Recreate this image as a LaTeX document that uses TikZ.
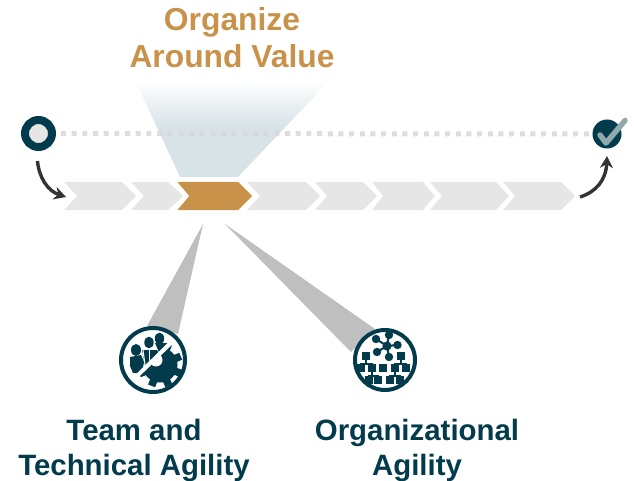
\documentclass[tikz,border=0pt]{standalone}
\usepackage{fontspec}
\setmainfont{Liberation Sans}
\usetikzlibrary{arrows.meta}

\definecolor{tealdark}{HTML}{023B4B}
\definecolor{goldtitle}{HTML}{C9924A}
\definecolor{chevgrey}{HTML}{E6E6E6}
\definecolor{beamgrey}{HTML}{BFBFBF}
\definecolor{funnelblue}{HTML}{D8E3E8}
\definecolor{checkgrey}{HTML}{8FA9AD}

\tikzset{
    titletext/.style={font=\bfseries\fontsize{31.8}{37}\selectfont, text=goldtitle, align=center},
    labeltext/.style={font=\bfseries\fontsize{29.4}{35}\selectfont, text=tealdark, align=center},
    flowarrow/.style={draw=black!80, line width=3.4pt, -{Stealth[length=12pt,width=13pt]}},
    iconring/.style={circle, draw=tealdark, fill=white, line width=4pt, inner sep=0pt}
}

\begin{document}
\begin{tikzpicture}[x=1pt, y=-1pt]
    \useasboundingbox (0,0) rectangle (634,481);

    % Funnel
    \begin{scope}
        \clip (135,80) -- (330,80) -- (238,177) -- (180,177) -- cycle;
        \shade[top color=white, bottom color=funnelblue] (120,80) rectangle (340,126);
        \fill[funnelblue] (120,125.5) rectangle (340,177);
    \end{scope}

    % Start and end
    \node[circle, draw=tealdark, fill=chevgrey, line width=8pt, minimum size=27pt, inner sep=0pt] (startdot) at (38.5,133.5) {};
    \node[circle, fill=tealdark, minimum size=29pt, inner sep=0pt] (enddot) at (607,134) {};
    \draw[draw=black!15, draw opacity=0.9, line width=5pt, dash pattern=on 5pt off 5.67pt, dash phase=5.67pt] (startdot) -- (enddot);
    \draw[checkgrey, line width=5.5pt, line cap=round, line join=round] (600,135) -- (606,143) -- (625,120.5);

    % Chevrons
    \foreach \xa/\xb/\xc/\xd in {64/77/122/136, 131/144/168/183, 247/260/306/320, 315/327/363/377, 372/383/423/435, 430/442/496/509, 503/515/561/575}
        \fill[chevgrey] (\xa,182) -- (\xc,182) -- (\xd,196) -- (\xc,210) -- (\xa,210) -- (\xb,196) -- cycle;
    \fill[goldtitle, draw=goldtitle, line join=round, line width=1pt] (178.5,182.5) -- (238,182.5) -- (251.5,196) -- (238,209.5) -- (178.5,209.5) -- (190,196) -- cycle;

    % Arrows
    \coordinate (flowin) at (66,197);
    \coordinate (flowinstart) at (37.5,161);
    \coordinate (flowout) at (607,156);
    \coordinate (flowoutstart) at (580,197);
    \draw[flowarrow] (flowinstart) .. controls (39,178) and (48,191) .. (flowin);
    \draw[flowarrow] (flowoutstart) .. controls (596,192) and (606,180) .. (flowout);

    % Beams
    \fill[beamgrey] (203,224) -- (178,334) -- (147,326) -- cycle;
    \fill[beamgrey] (225,224) -- (375,329) -- (351,352) -- cycle;

    % Team icon
    \node[iconring, minimum size=64pt] (teamicon) at (153,360) {};
    \coordinate (gearcenter) at (160,365);
    \begin{scope}
        \clip (174,341) -- (136,379) -- (136,392) -- (186,392) -- (186,341) -- cycle;
        \fill[tealdark] (gearcenter) circle (17.5);
        \foreach \a in {0,45,...,315}
            \draw[tealdark, line width=7.5pt] (gearcenter) ++(\a+22:14) -- ++(\a+22:8.5);
        \fill[white] (156,360) circle (6.5);
    \end{scope}
    \draw[white, line width=2.5pt] (175,340) -- (134,380);
    \begin{scope}
        \clip (170.5,340) -- (132.5,377.5) -- (125,377.5) -- (125,330) -- (170.5,330) -- cycle;
        % Heads
        \fill[tealdark] (136,350) ellipse (5 and 6);
        \fill[tealdark] (149,342.5) ellipse (4.7 and 5.8);
        \fill[tealdark] (159.5,338.5) ellipse (4.7 and 5.8);
        % Bodies
        \fill[tealdark] (130,357) -- (141,355) -- (144,362) -- (142,373) -- (133,373) -- (130,366) -- cycle;
        \fill[tealdark] (142,350) -- (157,350) -- (163,360) -- (146,372) -- cycle;
        \fill[tealdark] (155,343) -- (168,343) -- (170,349) -- (161,357) -- cycle;
        \draw[white, line width=1pt] (149,350) -- (149,362);
        \draw[white, line width=1pt] (143,350) -- (146,372);
    \end{scope}

    % Organization icon
    \node[iconring, minimum size=60pt] (orgicon) at (385,360) {};
    \coordinate (hubcenter) at (387,346);
    \foreach \px/\py in {376/339, 389/335, 397.5/345, 389/357, 377/352} {
        \draw[tealdark, line width=2pt] (hubcenter) -- (\px,\py);
        \fill[tealdark] (\px,\py) circle (4.2);
    }
    \fill[tealdark] (hubcenter) circle (4.6);
    \draw[tealdark, line width=1.3pt] (366,356) -- (366,364) (361,368) -- (361,364) -- (372,364) -- (372,368)
        (401,356) -- (401,364) (395,368) -- (395,364) -- (406,364) -- (406,368)
        (372,368) -- (372,376) (369,380) -- (369,376) -- (378,376) -- (378,380)
        (395,368) -- (395,376) (390,380) -- (390,376) -- (400,376) -- (400,380);
    \foreach \px/\py in {366/356, 401/356, 361/368, 372/368, 383/368, 395/368, 406/368, 369/380, 378/380, 390/380, 400/380}
        \fill[tealdark] (\px-4,\py-3.8) rectangle (\px+4,\py+3.8);

    % Labels
    \node[titletext] (valuetitle) at (232,38) {Organize\\Around Value};
    \node[labeltext] (teamlabel) at (134,450) {Team and\\Technical Agility};
    \node[labeltext] (orglabel) at (417,450) {Organizational\\Agility};
\end{tikzpicture}
\end{document}
